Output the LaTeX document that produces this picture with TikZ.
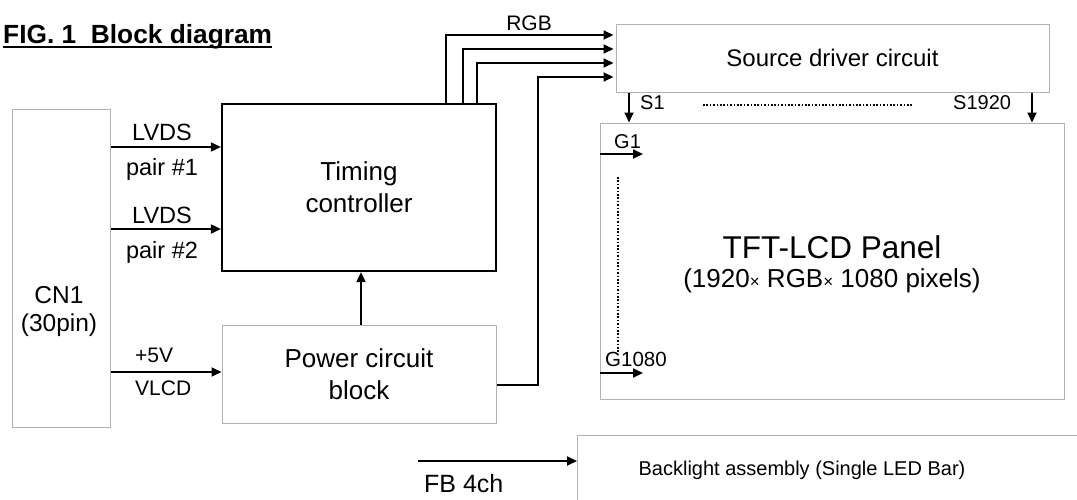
\documentclass[tikz,border=0pt]{standalone}
\usepackage{fontspec}
\setmainfont{Liberation Sans}
\usetikzlibrary{arrows.meta,calc}
\newcommand{\smtimes}{{\fontsize{17}{20}\selectfont ×}}
\begin{document}
\begin{tikzpicture}[x=1pt,y=-1pt,
  gbox/.style={draw=black!30, line width=1pt, rectangle, inner sep=0pt, align=center},
  bbox/.style={draw=black, line width=2.2pt, rectangle, inner sep=0pt, align=center},
  arr/.style={line width=1.8pt, -{Triangle[length=10pt,width=9pt]}},
  rgbarr/.style={line width=2pt, -{Triangle[length=10pt,width=9pt]}, shorten >=2pt},
  dots/.style={line width=1.6pt, dash pattern=on 1.5pt off 1.9pt},
  big/.style={font=\fontsize{26}{32}\selectfont},
  lbl/.style={inner sep=0pt, font=\fontsize{21}{24}\selectfont},
  lvds/.style={inner sep=0pt, font=\fontsize{23.5}{26}\selectfont},
]
\clip (0,0) rectangle (1077,499);
\fill[white] (0,0) rectangle (1077,499);

% title
\node[anchor=base west, inner sep=0pt, font=\fontsize{26.3}{30}\selectfont\bfseries] (title) at (3,43) {FIG. 1\ \ Block diagram};
\draw[line width=2pt] ([yshift=-4pt]title.base west) -- ([yshift=-4pt]title.base east);

% boxes
\node[gbox, minimum width=98pt, minimum height=318pt] (cn1) at (61,268) {};
\node[align=center, inner sep=0pt, font=\fontsize{24.5}{28}\selectfont] (cn1t) at (59,311) {CN1\\(30pin)};
\node[bbox, big, minimum width=274pt, minimum height=167pt] (tc) at (359,187.5) {Timing\\controller};
\node[gbox, big, minimum width=274pt, minimum height=98pt] (pw) at (359,374) {Power circuit\\block};
\node[gbox, minimum width=433pt, minimum height=68pt, font=\fontsize{24}{28}\selectfont] (sd) at (832.5,58) {Source driver circuit};
\node[gbox, minimum width=464pt, minimum height=276pt] (tft) at (832,261) {};
\node[inner sep=0pt, font=\fontsize{31.5}{36}\selectfont] (tft1) at (832,247) {TFT-LCD Panel};
\node[inner sep=0pt, font=\fontsize{26}{30}\selectfont] (tft2) at (832,281) {(1920\smtimes{} RGB\smtimes{} 1080 pixels)};
\node[gbox, anchor=north west, minimum width=540pt, minimum height=90pt] (bl) at (577,435) {};
\node[inner sep=0pt, font=\fontsize{20}{24}\selectfont] (blt) at (802,470) {Backlight assembly (Single LED Bar)};

% LVDS inputs
\coordinate (y1) at (0,147);
\coordinate (y2) at (0,229);
\draw[arr] (y1 -| cn1.east) -- (y1 -| tc.west);
\draw[arr] (y2 -| cn1.east) -- (y2 -| tc.west);
\node[lvds] (lv1) at (162,132) {LVDS};
\node[lvds] (pr1) at (162,169) {pair \#1};
\node[lvds] (lv2) at (162,215) {LVDS};
\node[lvds] (pr2) at (162,252) {pair \#2};

% power input
\coordinate (y3) at (0,372);
\draw[arr] (y3 -| cn1.east) -- (y3 -| pw.west);
\node[lbl, anchor=west] (v5) at (135,355) {+5V};
\node[lbl, anchor=west] (vlcd) at (135,388) {VLCD};

% power to timing
\coordinate (pu) at (361,0);
\draw[arr] (pu |- pw.north) -- (pu |- tc.south);

% RGB bus
\coordinate (r1) at (446,35);
\coordinate (r2) at (463,49);
\coordinate (r3) at (477,63);
\coordinate (r4) at (538,77);
\coordinate (p4) at (0,385);
\draw[rgbarr] (r1 |- tc.north) -- (r1) -- (r1 -| sd.west);
\draw[rgbarr] (r2 |- tc.north) -- (r2) -- (r2 -| sd.west);
\draw[rgbarr] (r3 |- tc.north) -- (r3) -- (r3 -| sd.west);
\draw[rgbarr] (p4 -| pw.east) -- (p4 -| r4) -- (r4) -- (r4 -| sd.west);
\node[lbl] (rgb) at (529,23) {RGB};

% source lines
\coordinate (s1) at (629,0);
\coordinate (s2) at (1032,0);
\draw[arr] (s1 |- sd.south) -- (s1 |- tft.north);
\draw[arr] (s2 |- sd.south) -- (s2 |- tft.north);
\node[lbl, anchor=west, font=\fontsize{20}{24}\selectfont] (s1t) at (640,103) {S1};
\node[lbl, anchor=west, font=\fontsize{20}{24}\selectfont] (s2t) at (953,103) {S1920};
\draw[dots] (703,105) -- (913,105);

% gate lines
\coordinate (g1) at (643,154);
\coordinate (g2) at (643,373);
\draw[arr] (g1 -| tft.west) -- (g1);
\draw[arr] (g2 -| tft.west) -- (g2);
\node[lbl, anchor=west, font=\fontsize{20}{24}\selectfont] (g1t) at (614,142) {G1};
\node[lbl, anchor=west, font=\fontsize{20.5}{24}\selectfont] (g2t) at (605,359) {G1080};
\draw[dots] (618,177) -- (618,352);

% backlight feedback
\coordinate (fb) at (418,461);
\draw[arr] (fb) -- (fb -| bl.west);
\node[inner sep=0pt, anchor=west, font=\fontsize{25}{30}\selectfont] (fbt) at (424,484) {FB 4ch};
\end{tikzpicture}
\end{document}
